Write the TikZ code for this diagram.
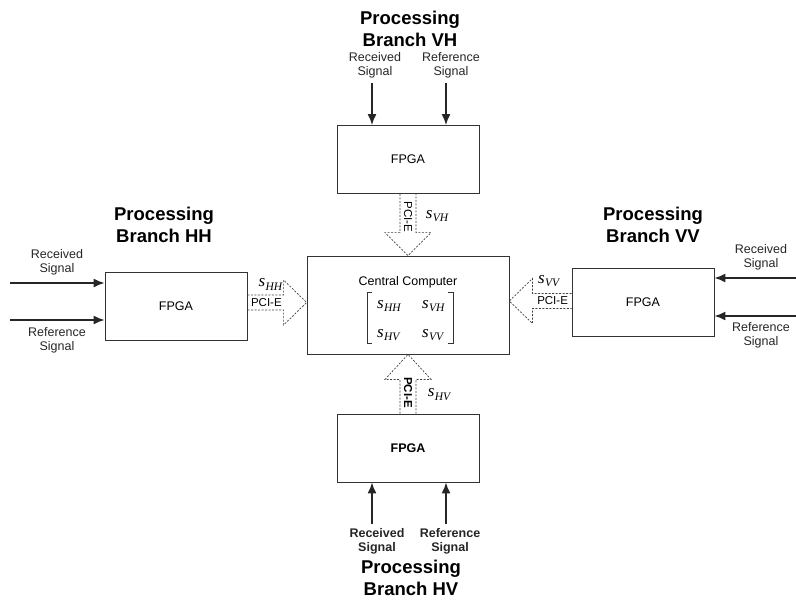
\documentclass[tikz,border=0pt]{standalone}
\usepackage{fontspec}
\setmainfont{Liberation Sans}
\newfontfamily\serifit{Liberation Serif}
\usetikzlibrary{arrows.meta, calc, positioning}

% polarimetric component s_{xy}
\newcommand{\scomp}[1]{{\serifit\itshape\fontsize{17}{17}\selectfont s\kern0.3pt\raisebox{-3.5pt}{\fontsize{11.5}{11.5}\selectfont #1}}}

\tikzset{
  fpga/.style={draw=black!80, line width=0.8pt, minimum width=142pt, minimum height=68pt, font=\fontsize{12.5}{14}\selectfont},
  sig/.style={-{Latex[length=11pt,width=9pt]}, line width=1.7pt, black!85},
  siglabel/.style={align=center, inner sep=0pt, font=\fontsize{12.5}{14}\selectfont, text=black!85},
  branch/.style={align=center, inner sep=0pt, font=\fontsize{18.5}{22}\selectfont\bfseries},
  bus/.style={draw=black!75, line width=0.7pt, dash pattern=on 2pt off 1.5pt, line join=miter},
  buslabel/.style={inner sep=0pt, font=\fontsize{11.5}{12}\selectfont},
  entry/.style={inner sep=0pt, anchor=base west},
}

\begin{document}
\begin{tikzpicture}[x=1pt, y=-1pt]
	\useasboundingbox (0,0) rectangle (796,600);

	% boxes
	\node[draw=black!80, line width=0.8pt, minimum width=202pt, minimum height=98pt] (cc) at (408,305) {};
	\node[fpga] (vh) at (408,159.5) {FPGA};
	\node[fpga] (hh) at (176,306) {FPGA};
	\node[fpga] (vv) at (643,302) {FPGA};
	\node[fpga, font=\fontsize{12.5}{14}\selectfont\bfseries] (hv) at (408,448) {FPGA};

	% central computer contents
	\node[inner sep=0pt, font=\fontsize{12.5}{14}\selectfont] (cctitle) at ($(cc.center)+(0,-23)$) {Central Computer};
	\node[entry] (m11) at ($(cc.center)+(-31,3)$) {\scomp{HH}};
	\node[entry] (m12) at ($(cc.center)+(14,3)$) {\scomp{VH}};
	\node[entry] (m21) at ($(cc.center)+(-31,32)$) {\scomp{HV}};
	\node[entry] (m22) at ($(cc.center)+(14,32)$) {\scomp{VV}};
	\draw[black!80, line width=0.7pt] ($(cc.center)+(-36,-13)$) -- ++(-5,0) -- ++(0,51) -- ++(5,0);
	\draw[black!80, line width=0.7pt] ($(cc.center)+(40,-13)$) -- ++(5,0) -- ++(0,51) -- ++(-5,0);

	% PCI-E links
	\coordinate (hhtip) at ($(cc.west)+(0,-2.5)$);
	\coordinate (vvtip) at ($(cc.east)+(0,-4)$);
	\draw[bus] ($(vh.south)+(-8,0)$) -- ($(cc.north)+(-8,-23)$) -- ($(cc.north)+(-23,-23)$) -- (cc.north)
		-- ($(cc.north)+(23,-23)$) -- ($(cc.north)+(8,-23)$) -- ($(vh.south)+(8,0)$);
	\draw[bus] ($(hv.north)+(-8,0)$) -- ($(cc.south)+(-8,25)$) -- ($(cc.south)+(-23,25)$) -- (cc.south)
		-- ($(cc.south)+(23,25)$) -- ($(cc.south)+(8,25)$) -- ($(hv.north)+(8,0)$);
	\draw[bus] ($(hh.east |- hhtip)+(0,-7.5)$) -- ($(hhtip)+(-23,-7.5)$) -- ($(hhtip)+(-23,-22.5)$) -- (hhtip)
		-- ($(hhtip)+(-23,22.5)$) -- ($(hhtip)+(-23,7.5)$) -- ($(hh.east |- hhtip)+(0,7.5)$);
	\draw[bus] ($(vv.west |- vvtip)+(0,-7.5)$) -- ($(vvtip)+(23,-7.5)$) -- ($(vvtip)+(23,-22.5)$) -- (vvtip)
		-- ($(vvtip)+(23,22.5)$) -- ($(vvtip)+(23,7.5)$) -- ($(vv.west |- vvtip)+(0,7.5)$);

	\node[buslabel, rotate=-90] (vhpci) at ($(vh.south)+(0,23)$) {PCI-E};
	\node[inner sep=0pt] (vhs) at ($(vh.south)+(29,22)$) {\scomp{VH}};
	\node[buslabel, rotate=-90, font=\fontsize{11.5}{12}\selectfont\bfseries] (hvpci) at ($(hv.north)+(0,-21)$) {PCI-E};
	\node[inner sep=0pt] (hvs) at ($(hv.north)+(31,-19)$) {\scomp{HV}};
	\node[buslabel] (hhpci) at ($(hh.east |- hhtip)+(19,0)$) {PCI-E};
	\node[inner sep=0pt] (hhs) at ($(hh.east |- hhtip)+(23,-18)$) {\scomp{HH}};
	\node[buslabel] (vvpci) at ($(vv.west |- vvtip)+(-19,0)$) {PCI-E};
	\node[inner sep=0pt] (vvs) at ($(vv.west |- vvtip)+(-23,-20)$) {\scomp{VV}};

	% input signals
	\coordinate (hhrx) at (10,283);
	\coordinate (hhref) at (10,320);
	\coordinate (vvrx) at (796,278);
	\coordinate (vvref) at (796,316);
	\coordinate (vhrx) at (372,83);
	\coordinate (vhref) at (446,83);
	\coordinate (hvrx) at (372,524);
	\coordinate (hvref) at (446,524);
	\draw[sig] (hhrx) -- (hh.west |- hhrx);
	\draw[sig] (hhref) -- (hh.west |- hhref);
	\draw[sig] (vvrx) -- (vv.east |- vvrx);
	\draw[sig] (vvref) -- (vv.east |- vvref);
	\draw[sig] (vhrx) -- (vhrx |- vh.north);
	\draw[sig] (vhref) -- (vhref |- vh.north);
	\draw[sig] (hvrx) -- (hvrx |- hv.south);
	\draw[sig] (hvref) -- (hvref |- hv.south);

	\node[siglabel] (hhrxl) at (57,262) {Received\\Signal};
	\node[siglabel] (hhrefl) at (57,340) {Reference\\Signal};
	\node[siglabel] (vvrxl) at (761,257) {Received\\Signal};
	\node[siglabel] (vvrefl) at (761,335) {Reference\\Signal};
	\node[siglabel] (vhrxl) at (375,65) {Received\\Signal};
	\node[siglabel] (vhrefl) at (451,65) {Reference\\Signal};
	\node[siglabel, font=\fontsize{12.5}{14}\selectfont\bfseries] (hvrxl) at (377,541) {Received\\Signal};
	\node[siglabel, font=\fontsize{12.5}{14}\selectfont\bfseries] (hvrefl) at (450,541) {Reference\\Signal};

	% branch titles
	\node[branch] (vhname) at (410,29) {Processing\\Branch VH};
	\node[branch] (hhname) at (164,225) {Processing\\Branch HH};
	\node[branch] (vvname) at (653,225) {Processing\\Branch VV};
	\node[branch] (hvname) at (411,578) {Processing\\Branch HV};
\end{tikzpicture}
\end{document}
